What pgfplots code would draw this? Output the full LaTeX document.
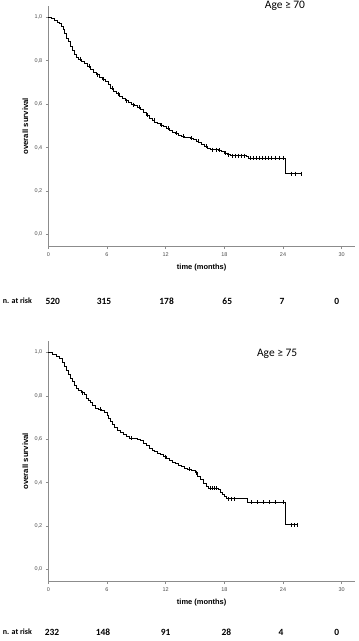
\documentclass[border=0pt]{standalone}
\usepackage{pgfplots}
\pgfplotsset{compat=1.18}
\usepackage{fontspec}
\setmainfont{Liberation Sans}
\newfontfamily\calfont{Carlito}

\pgfplotsset{
 kmaxis/.style={
  scale only axis, width=306.7bp, height=241bp,
  xmin=0, xmax=31.36, ymin=-0.057, ymax=1.054,
  axis x line*=bottom, axis y line*=left,
  axis line style={black!45, line width=0.6bp, -},
  xtick={0,6,12,18,24,30}, ytick={0,0.2,0.4,0.6,0.8,1.0},
  tick align=outside, major tick length=2.5bp,
  tick style={black!45, line width=0.6bp},
  yticklabel style={/pgf/number format/.cd, fixed, fixed zerofill, precision=1, use comma},
  /pgf/number format/assume math mode=true,
  ticklabel style={font=\fontsize{5.5}{6}\selectfont, text=black!70},
  xticklabel style={yshift=0.5bp},
  xlabel={time (months)}, ylabel={overall survival},
  every axis x label/.style={at={(axis description cs:0.5,-0.087)}, anchor=center, font=\fontsize{7.5}{9}\selectfont\bfseries},
  every axis y label/.style={at={(axis description cs:-0.075,0.5)}, rotate=90, anchor=center, font=\fontsize{7.8}{9}\selectfont\bfseries},
  clip=false,
 },
 km/.style={const plot, black, line width=0.9bp, no marks},
 cens/.style={only marks, mark=|, mark size=2bp, black, mark options={line width=0.5bp}},
}

\begin{document}
\begin{tikzpicture}
\path[use as bounding box] (0,0) rectangle (359bp,-641bp);

% ---------- Age >= 70 ----------
\begin{axis}[kmaxis, at={(48.3bp,-246.7bp)}, anchor=south west]
\addplot[km] coordinates {
(0,1.000) (0.3,0.995) (0.6,0.988) (0.9,0.978) (1.1,0.970) (1.3,0.958) (1.5,0.945)
(1.7,0.925) (1.9,0.905) (2.1,0.888) (2.3,0.868) (2.5,0.848) (2.7,0.830) (2.9,0.815)
(3.1,0.806) (3.4,0.798) (3.7,0.789) (4.0,0.775) (4.3,0.760) (4.6,0.746) (4.9,0.735)
(5.2,0.725) (5.5,0.716) (5.8,0.705) (6.1,0.690) (6.4,0.673) (6.7,0.660) (7.0,0.648)
(7.3,0.637) (7.6,0.626) (7.9,0.615) (8.2,0.606) (8.5,0.598) (8.8,0.592) (9.1,0.587)
(9.4,0.578) (9.7,0.562) (10.0,0.548) (10.3,0.535) (10.6,0.526) (10.9,0.518) (11.2,0.510)
(11.5,0.504) (11.8,0.497) (12.1,0.488) (12.4,0.479) (12.7,0.472) (13.0,0.465) (13.3,0.458)
(13.6,0.452) (13.9,0.448) (14.2,0.446) (14.5,0.442) (14.8,0.436) (15.1,0.430) (15.4,0.422)
(15.7,0.415) (16.0,0.407) (16.3,0.398) (16.6,0.391) (17.0,0.390) (17.4,0.388) (17.7,0.381)
(18.0,0.374) (18.3,0.368) (18.6,0.363) (20.3,0.358) (20.5,0.352) (24.2,0.280) (25.9,0.280)
};
\addplot[cens] coordinates {
(3.3,0.806) (4.2,0.775) (5.0,0.735) (5.6,0.716) (6.5,0.673) (7.2,0.648) (8.0,0.615)
(8.7,0.598) (9.3,0.587) (10.1,0.548) (10.8,0.526) (11.6,0.504) (12.3,0.488) (13.1,0.465)
(13.8,0.452) (14.6,0.442) (15.3,0.430) (16.1,0.407) (16.8,0.391) (17.2,0.390) (17.5,0.388)
(18.1,0.374) (18.4,0.368) (18.8,0.363) (19.1,0.363) (19.4,0.363) (19.7,0.363) (20.0,0.363)
(20.7,0.352) (21.0,0.352) (21.3,0.352) (21.6,0.352) (21.9,0.352) (22.2,0.352) (22.5,0.352)
(22.8,0.352) (23.2,0.352) (23.6,0.352) (24.0,0.352) (24.8,0.280) (25.3,0.280) (25.9,0.280)
};
\node[font=\calfont\fontsize{11.5}{13}\selectfont] at (axis cs:24.2,1.054) {Age ≥ 70};
\begin{scope}[every node/.style={font=\calfont\bfseries\fontsize{9.5}{11}\selectfont}]
\node[anchor=west, inner sep=0pt, font=\calfont\bfseries\fontsize{8}{10}\selectfont] at (axis cs:-4.66,-0.308) {n. at risk};
\node at (axis cs:0.45,-0.308) {520};
\node at (axis cs:5.7,-0.308) {315};
\node at (axis cs:12.1,-0.308) {178};
\node at (axis cs:18.3,-0.308) {65};
\node at (axis cs:23.9,-0.308) {7};
\node at (axis cs:29.5,-0.308) {0};
\end{scope}
\end{axis}

% ---------- Age >= 75 ----------
\begin{axis}[kmaxis, at={(48.3bp,-581.7bp)}, anchor=south west]
\addplot[km] coordinates {
(0,1.000) (0.4,0.992) (0.8,0.980) (1.1,0.970) (1.4,0.955) (1.7,0.935) (1.9,0.918)
(2.1,0.900) (2.3,0.882) (2.5,0.866) (2.7,0.848) (2.9,0.833) (3.1,0.823) (3.4,0.815)
(3.7,0.806) (3.9,0.790) (4.1,0.780) (4.3,0.768) (4.5,0.757) (4.8,0.743) (5.1,0.738)
(5.4,0.733) (5.7,0.724) (6.0,0.710) (6.2,0.697) (6.4,0.684) (6.6,0.668) (6.8,0.652)
(7.1,0.640) (7.4,0.630) (7.7,0.620) (8.0,0.612) (8.3,0.605) (8.7,0.603) (9.1,0.601)
(9.4,0.592) (9.7,0.580) (10.0,0.570) (10.3,0.558) (10.6,0.550) (10.9,0.542) (11.2,0.536)
(11.5,0.528) (11.8,0.520) (12.1,0.510) (12.4,0.501) (12.7,0.494) (13.0,0.487) (13.3,0.480)
(13.6,0.473) (13.9,0.466) (14.2,0.461) (14.6,0.458) (15.0,0.446) (15.3,0.430) (15.6,0.413)
(15.9,0.397) (16.2,0.383) (16.4,0.374) (17.4,0.366) (17.6,0.356) (17.8,0.343) (18.0,0.334)
(18.2,0.325) (20.4,0.309) (24.2,0.205) (25.5,0.205)
};
\addplot[cens] coordinates {
(3.5,0.815) (5.3,0.738) (8.5,0.605) (12.0,0.520) (14.4,0.461) (15.1,0.446)
(16.6,0.374) (16.8,0.374) (17.0,0.374) (17.2,0.374) (18.4,0.325) (18.7,0.325) (19.0,0.325)
(20.8,0.309) (21.4,0.309) (22.0,0.309) (22.6,0.309) (23.2,0.309) (24.0,0.309)
(24.8,0.205) (25.1,0.205) (25.5,0.205)
};
\node[font=\calfont\fontsize{11.5}{13}\selectfont] at (axis cs:23.4,0.994) {Age ≥ 75};
\begin{scope}[every node/.style={font=\calfont\bfseries\fontsize{9.5}{11}\selectfont}]
\node[anchor=west, inner sep=0pt, font=\calfont\bfseries\fontsize{8}{10}\selectfont] at (axis cs:-4.66,-0.289) {n. at risk};
\node at (axis cs:0.38,-0.289) {232};
\node at (axis cs:5.6,-0.289) {148};
\node at (axis cs:12.0,-0.289) {91};
\node at (axis cs:18.2,-0.289) {28};
\node at (axis cs:23.8,-0.289) {4};
\node at (axis cs:29.5,-0.289) {0};
\end{scope}
\end{axis}
\end{tikzpicture}
\end{document}
